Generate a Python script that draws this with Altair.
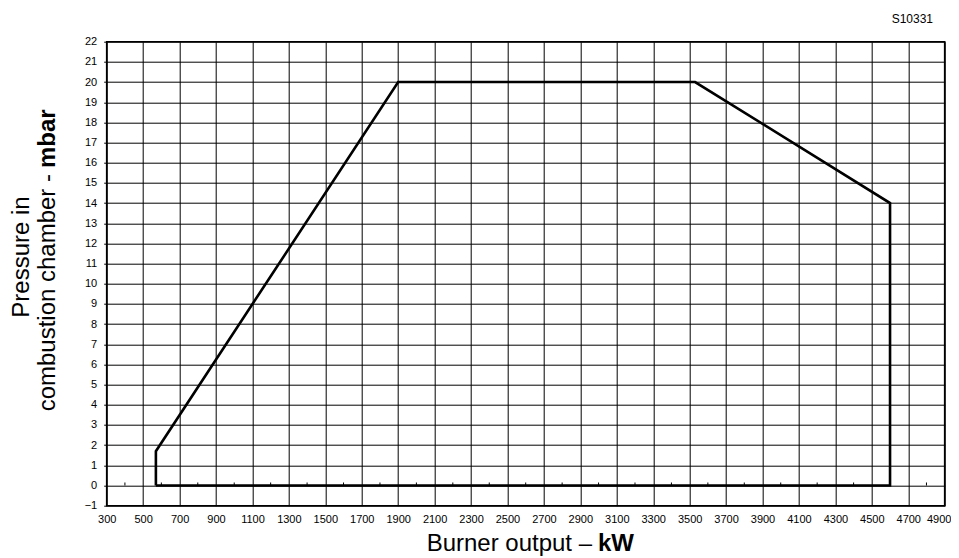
import altair as alt
import pandas as pd

# ---- data ----
burner_output_kw = [570, 570, 1900, 3530, 4600, 4600, 570]
pressure_mbar = [0, 1.7, 20, 20, 14, 0, 0]

x_tick_values = list(range(300, 5000, 200))      # labelled grid lines
y_tick_values = list(range(-1, 23))              # labelled grid lines
minor_tick_kw = list(range(400, 4900, 200))      # small ticks on the 0 line

x_title_plain = "Burner output \u2013"
x_title_bold = "kW"
y_title_line1 = "Pressure in"
y_title_plain = "combustion chamber -"
y_title_bold = "mbar"
code_label = "S10331"

# ---- layout ----
W, H = 838, 464
PAD_L, PAD_T = 98.7, 33.7
OX, OY = PAD_L + 8, PAD_T + 8   # plot origin on the page

FONT = "Liberation Sans"

outline_df = pd.DataFrame({
    "kw": burner_output_kw,
    "mbar": pressure_mbar,
    "i": list(range(len(burner_output_kw))),
})
minor_df = pd.DataFrame({"kw": minor_tick_kw, "mbar": [0] * len(minor_tick_kw),
                         "y1": [0.15] * len(minor_tick_kw)})

x_scale = alt.Scale(domain=[300, 4900], nice=False, zero=False)
y_scale = alt.Scale(domain=[-1, 22], nice=False, zero=False)

x_axis = alt.Axis(values=x_tick_values, format="d", grid=True, gridColor="#000",
                  gridWidth=1, gridOpacity=1, ticks=False, domain=False,
                  labelFont=FONT, labelFontSize=11, labelColor="#000",
                  labelPadding=8, labelFlush=False, labelOverlap=False, title=None,
                  labelOffset={"condition": {"test": "datum.value >= 4900",
                                             "value": -6},
                               "value": 0})
y_axis = alt.Axis(values=y_tick_values, format="d", grid=True, gridColor="#000",
                  gridWidth=1, gridOpacity=1, ticks=True, tickSize=3,
                  tickColor="#000", domain=False, labelFont=FONT,
                  labelFontSize=11, labelColor="#000", labelPadding=7,
                  labelFlush=False, labelOverlap=False, title=None)

outline = alt.Chart(outline_df).mark_line(
    color="#000", strokeWidth=2.6, strokeJoin="miter"
).encode(
    x=alt.X("kw:Q", scale=x_scale, axis=x_axis),
    y=alt.Y("mbar:Q", scale=y_scale, axis=y_axis),
    order="i:Q",
)

minor = alt.Chart(minor_df).mark_rule(color="#000", strokeWidth=1).encode(
    x=alt.X("kw:Q", scale=x_scale, axis=x_axis),
    y=alt.Y("mbar:Q", scale=y_scale, axis=y_axis),
    y2="y1:Q",
)


def label(text, px, py, size, bold=False, align="center", angle=0):
    return alt.Chart(pd.DataFrame({"t": [text]})).mark_text(
        font=FONT, fontSize=size, fontWeight="bold" if bold else "normal",
        color="#000", align=align, baseline="alphabetic", angle=angle,
    ).encode(
        text="t:N",
        x=alt.value(px - OX),
        y=alt.value(py - OY),
    )


texts = [
    label(x_title_plain, 592, 551, 24, align="right"),
    label(x_title_bold, 598, 551, 24, bold=True, align="left"),
    label(y_title_line1, 29, 257, 24, align="center", angle=270),
    label(y_title_plain, 55, 174, 24, align="right", angle=270),
    label(y_title_bold, 55, 168, 24, bold=True, align="left", angle=270),
    label(code_label, 933, 23, 12, align="right"),
]

chart = alt.layer(outline, minor, *texts).properties(
    width=W, height=H,
    padding={"left": PAD_L, "top": PAD_T, "right": 6, "bottom": 50},
    autosize=alt.AutoSizeParams(type="none"),
).configure_view(stroke="#000", strokeWidth=1.6)

chart.save("out.html", embed_options={"renderer": "svg", "actions": False})
